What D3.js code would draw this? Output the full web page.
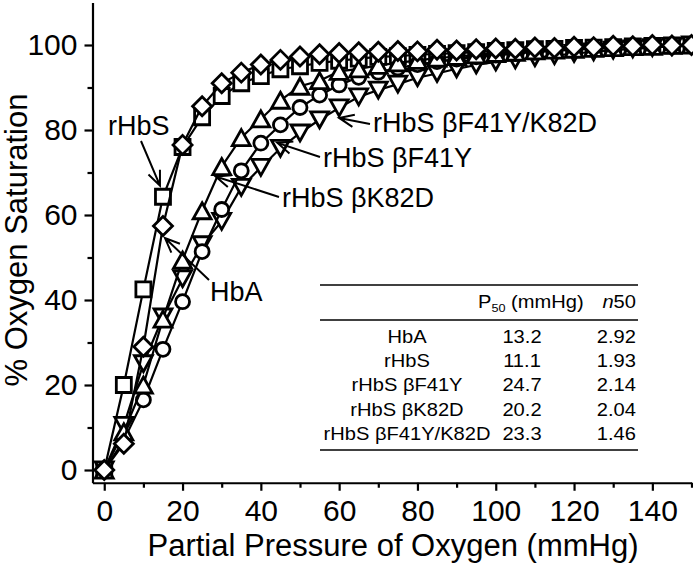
<!DOCTYPE html>
<html>
<head>
<meta charset="utf-8">
<script src="https://cdn.jsdelivr.net/npm/d3@7"></script>
<style>
  body { margin: 0; background: #fff; }
  svg { display: block; font-family: "Liberation Sans", Arial, Helvetica, sans-serif; }
</style>
</head>
<body>
<div id="chart"></div>
<script>
//////////////////// Data ////////////////////
const pressure = [0, 5, 10, 15, 20, 25, 30, 35, 40, 45, 50, 55, 60, 65, 70, 75,
  80, 85, 90, 95, 100, 105, 110, 115, 120, 125, 130, 135, 140, 145, 150];

const satHbA = [0, 6.2, 29, 57.4, 76.5, 85.6, 91, 93.5, 95.4, 96.5, 97.3, 97.8, 98.1, 98.3, 98.4, 98.6,
  98.5, 98.9, 98.7, 99.0, 99.2, 99.1, 99.4, 99.3, 99.6, 99.5, 99.8, 99.7, 100, 99.9, 100];
const satRHbS = [0, 20, 42.5, 64.3, 76, 83, 88, 91, 92.7, 94.3, 95, 95.8, 96.3, 96.8, 97.2, 97.4,
  97.7, 97.9, 98.1, 98.3, 98.6, 98.8, 99, 99.1, 99.3, 99.4, 99.5, 99.7, 99.8, 99.9, 100];
const satF41Y = [0, 7, 16.5, 28.4, 39.6, 51.4, 61.3, 70.4, 76.9, 81.2, 85.3, 88.2, 90.6, 92.4, 93.6, 94.6,
  95.4, 96.1, 96.7, 97.2, 97.6, 98, 98.3, 98.6, 98.9, 99.1, 99.3, 99.5, 99.7, 99.8, 100];
const satK82D = [0, 9, 20, 35.5, 49.4, 61, 71.4, 78.2, 82.6, 87, 90.3, 91.6, 93.8, 94.4, 95.2, 95.8,
  96.4, 96.9, 97.3, 97.7, 98, 98.3, 98.6, 98.8, 99, 99.2, 99.4, 99.6, 99.7, 99.9, 100];
const satF41YK82D = [0, 10.5, 25, 36, 45, 53, 58.5, 66.5, 71.2, 75.7, 79.3, 82.4, 85.2, 87.8, 89.4, 90.8,
  92.3, 93.3, 94.4, 95.3, 96, 96.5, 97, 97.5, 98, 98.4, 98.8, 99.1, 99.4, 99.7, 100];

const xMajorTicks = [0, 20, 40, 60, 80, 100, 120, 140];
const xMinorTicks = [10, 30, 50, 70, 90, 110, 130, 150];
const yMajorTicks = [0, 20, 40, 60, 80, 100];
const yMinorTicks = [10, 30, 50, 70, 90];

const tableNames = ["HbA", "rHbS", "rHbS \u03B2F41Y", "rHbS \u03B2K82D", "rHbS \u03B2F41Y/K82D"];
const tableP50 = ["13.2", "11.1", "24.7", "20.2", "23.3"];
const tableN50 = ["2.92", "1.93", "2.14", "2.04", "1.46"];

//////////////////// Marker shapes (size = half extent) ////////////////////
const symDiamond = { draw(c, r) { c.moveTo(0, -r); c.lineTo(r, 0); c.lineTo(0, r); c.lineTo(-r, 0); c.closePath(); } };
const symSquare = { draw(c, r) { c.rect(-r, -r, 2 * r, 2 * r); } };
const symCircle = { draw(c, r) { c.moveTo(r, 0); c.arc(0, 0, r, 0, 2 * Math.PI); } };
const symTriUp = { draw(c, r) { c.moveTo(0, -r); c.lineTo(r * 1.12, r); c.lineTo(-r * 1.12, r); c.closePath(); } };
const symTriDown = { draw(c, r) { c.moveTo(0, r); c.lineTo(r * 1.12, -r); c.lineTo(-r * 1.12, -r); c.closePath(); } };

// drawing order: last one ends up on top
const series = [
  { name: "rHbS", values: satRHbS, type: symSquare, size: 7.5 },
  { name: "rHbS \u03B2F41Y/K82D", values: satF41YK82D, type: symTriDown, size: 8 },
  { name: "rHbS \u03B2F41Y", values: satF41Y, type: symCircle, size: 7 },
  { name: "rHbS \u03B2K82D", values: satK82D, type: symTriUp, size: 8 },
  { name: "HbA", values: satHbA, type: symDiamond, size: 9.5 }
];

//////////////////// Setup ////////////////////
const W = 693, H = 568;
const x = d3.scaleLinear().domain([-3, 150]).range([92.5, 691.5]);
const y = d3.scaleLinear().domain([-3, 110]).range([482.75, 2.5]);

const svg = d3.select("#chart").append("svg")
  .attr("width", W)
  .attr("height", H);

//////////////////// Axes ////////////////////
const xAxisG = svg.append("g").attr("transform", "translate(0," + y(-3) + ")");
xAxisG.call(d3.axisBottom(x).tickValues(xMinorTicks).tickSize(5).tickSizeOuter(0).tickFormat(""));
xAxisG.append("g").call(d3.axisBottom(x).tickValues(xMajorTicks).tickSize(8).tickSizeOuter(0).tickPadding(9))
  .select(".domain").remove();

const yAxisG = svg.append("g").attr("transform", "translate(" + x(-3) + ",0)");
yAxisG.call(d3.axisLeft(y).tickValues(yMinorTicks).tickSize(5).tickSizeOuter(0).tickFormat(""));
yAxisG.append("g").call(d3.axisLeft(y).tickValues(yMajorTicks).tickSize(8).tickSizeOuter(0).tickPadding(7))
  .select(".domain").remove();

svg.selectAll(".domain").attr("stroke", "#000").attr("stroke-width", 2.2);
svg.selectAll(".tick line").attr("stroke", "#000").attr("stroke-width", 2.2);
svg.selectAll(".tick text")
  .attr("fill", "#000")
  .style("font-size", "30px")
  .style("font-family", "'Liberation Sans', Arial, sans-serif");

// axis titles
svg.append("text")
  .attr("x", 393)
  .attr("y", 556)
  .attr("text-anchor", "middle")
  .style("font-size", "31px")
  .text("Partial Pressure of Oxygen (mmHg)");

svg.append("text")
  .attr("transform", "translate(27,240) rotate(-90)")
  .attr("text-anchor", "middle")
  .style("font-size", "31px")
  .text("% Oxygen Saturation");

//////////////////// Curves ////////////////////
const line = d3.line()
  .x((d, i) => x(pressure[i]))
  .y(d => y(d));

const seriesG = svg.selectAll(".series")
  .data(series)
  .enter().append("g")
  .attr("class", "series");

seriesG.each(function(s) {
  const g = d3.select(this);
  g.append("path")
    .attr("d", line(s.values))
    .attr("fill", "none")
    .attr("stroke", "#000")
    .attr("stroke-width", 2.2);
  g.selectAll("path.marker")
    .data(s.values)
    .enter().append("path")
    .attr("class", "marker")
    .attr("transform", (d, i) => "translate(" + x(pressure[i]) + "," + y(d) + ")")
    .attr("d", d3.symbol().type(s.type).size(s.size))
    .attr("fill", "#fff")
    .attr("stroke", "#000")
    .attr("stroke-width", 2.8)
    .attr("stroke-linejoin", "miter");
});

//////////////////// Annotations with arrows ////////////////////
// tip = data point (series values, index) plus a pixel offset; text/start are layout positions
const notes = [
  { text: "rHbS", values: satRHbS, idx: 3, dx: -3, dy: -11, tx: 108, ty: 135, sx: 141, sy: 141 },
  { text: "HbA", values: satHbA, idx: 3, dx: 2, dy: 12, tx: 210, ty: 301, sx: 209, sy: 280 },
  { text: "rHbS \u03B2K82D", values: satK82D, idx: 6, dx: -6, dy: 10, tx: 282, ty: 207, sx: 279, sy: 197 },
  { text: "rHbS \u03B2F41Y", values: satF41Y, idx: 9, dx: -3, dy: 18, tx: 323, ty: 167, sx: 320, sy: 157 },
  { text: "rHbS \u03B2F41Y/K82D", values: satF41YK82D, idx: 12, dx: 0, dy: 10, tx: 373, ty: 132, sx: 370, sy: 124 }
];

const noteG = svg.append("g").attr("class", "notes");
notes.forEach(n => {
  const ex = x(pressure[n.idx]) + n.dx,
    ey = y(n.values[n.idx]) + n.dy;
  const ang = Math.atan2(ey - n.sy, ex - n.sx),
    headLen = 16, spread = 0.4;
  const p = d3.path();
  p.moveTo(n.sx, n.sy);
  p.lineTo(ex, ey);
  p.moveTo(ex - headLen * Math.cos(ang - spread), ey - headLen * Math.sin(ang - spread));
  p.lineTo(ex, ey);
  p.lineTo(ex - headLen * Math.cos(ang + spread), ey - headLen * Math.sin(ang + spread));
  noteG.append("path")
    .attr("d", p.toString())
    .attr("fill", "none")
    .attr("stroke", "#000")
    .attr("stroke-width", 2);
  noteG.append("text")
    .attr("x", n.tx)
    .attr("y", n.ty)
    .style("font-size", "27px")
    .text(n.text);
});

//////////////////// Table ////////////////////
const tbl = svg.append("g").attr("class", "table");
const tblLeft = 320, tblRight = 638;
[285, 320, 450].forEach(ly => {
  tbl.append("line")
    .attr("x1", tblLeft).attr("x2", tblRight)
    .attr("y1", ly).attr("y2", ly)
    .attr("stroke", "#000")
    .attr("stroke-width", 1.5);
});

// text in the table is a little wider than it is tall
const sx = 1.15, tblFont = "17.5px";
function tblText(xp, yp, anchor) {
  return tbl.append("text")
    .attr("transform", "translate(" + xp + "," + yp + ") scale(" + sx + ",1)")
    .attr("text-anchor", anchor)
    .style("font-size", tblFont);
}

const hdr = tblText(478, 308, "start");
hdr.append("tspan").text("P");
hdr.append("tspan").attr("dy", 4).style("font-size", "11px").text("50");
hdr.append("tspan").attr("dy", -4).text(" (mmHg)");
const hdr2 = tblText(636, 308, "end");
hdr2.append("tspan").style("font-style", "italic").text("n");
hdr2.append("tspan").text("50");

tableNames.forEach((nm, i) => {
  const ry = 342.5 + i * 24.4;
  tblText(407, ry, "middle").text(nm);
  tblText(522, ry, "middle").text(tableP50[i]);
  tblText(636, ry, "end").text(tableN50[i]);
});
</script>
</body>
</html>
